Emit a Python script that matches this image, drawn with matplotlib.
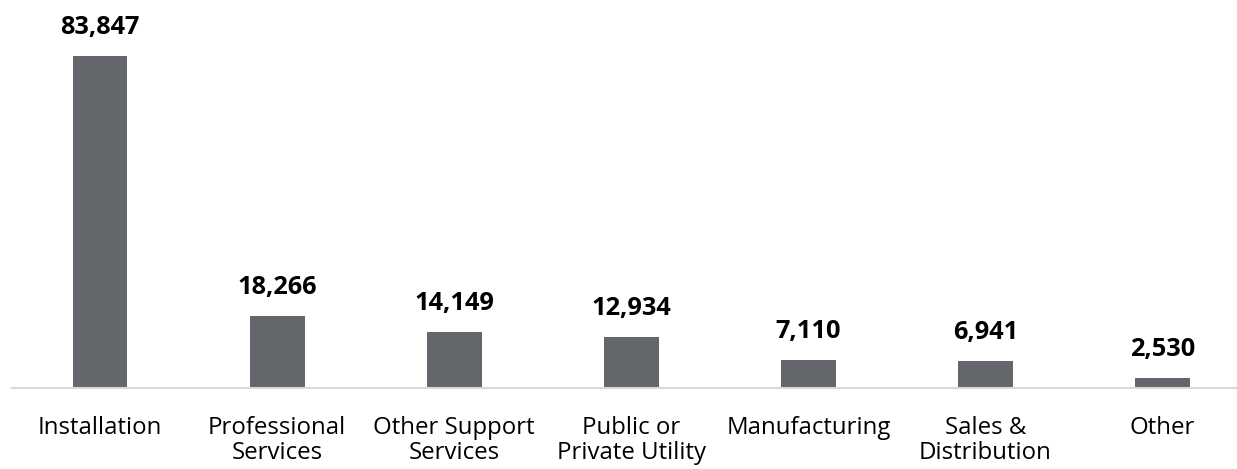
import matplotlib
matplotlib.use("Agg")
import matplotlib.pyplot as plt

categories = ["Installation", "Professional\nServices", "Other Support\nServices",
              "Public or\nPrivate Utility", "Manufacturing", "Sales &\nDistribution", "Other"]
values = [83847, 18266, 14149, 12934, 7110, 6941, 2530]

W, H = 1237, 469
fig = plt.figure(figsize=(W / 100, H / 100), dpi=100)
left_px, right_px = 11.5, 1251
bottom_px, top_px = 388, 31.6
ax = fig.add_axes([left_px / W, (H - bottom_px) / H, (right_px - left_px) / W, (bottom_px - top_px) / H])

x = range(len(categories))
bars = ax.bar(x, values, width=0.31, color="#63666A")
ax.set_xlim(-0.5, len(categories) - 0.5)
ax.set_ylim(0, 90000)

for b, v in zip(bars, values):
    ax.annotate(f"{v:,}", (b.get_x() + b.get_width() / 2, v), xytext=(0, 15.5),
                textcoords="offset points", ha="center", va="baseline",
                fontsize=18.3, fontweight="bold", family="Open Sans", color="#000000")

ax.set_xticks(list(x))
ax.set_xticklabels(categories, fontsize=17.3, family="Open Sans", color="#000000", linespacing=1.08)
ax.tick_params(axis="x", length=0, pad=20)
ax.set_yticks([])
for s in ["top", "right", "left"]:
    ax.spines[s].set_visible(False)
ax.spines["bottom"].set_color("#D9D9D9")
ax.spines["bottom"].set_linewidth(1.5)

fig.savefig("out.png", dpi=100)
